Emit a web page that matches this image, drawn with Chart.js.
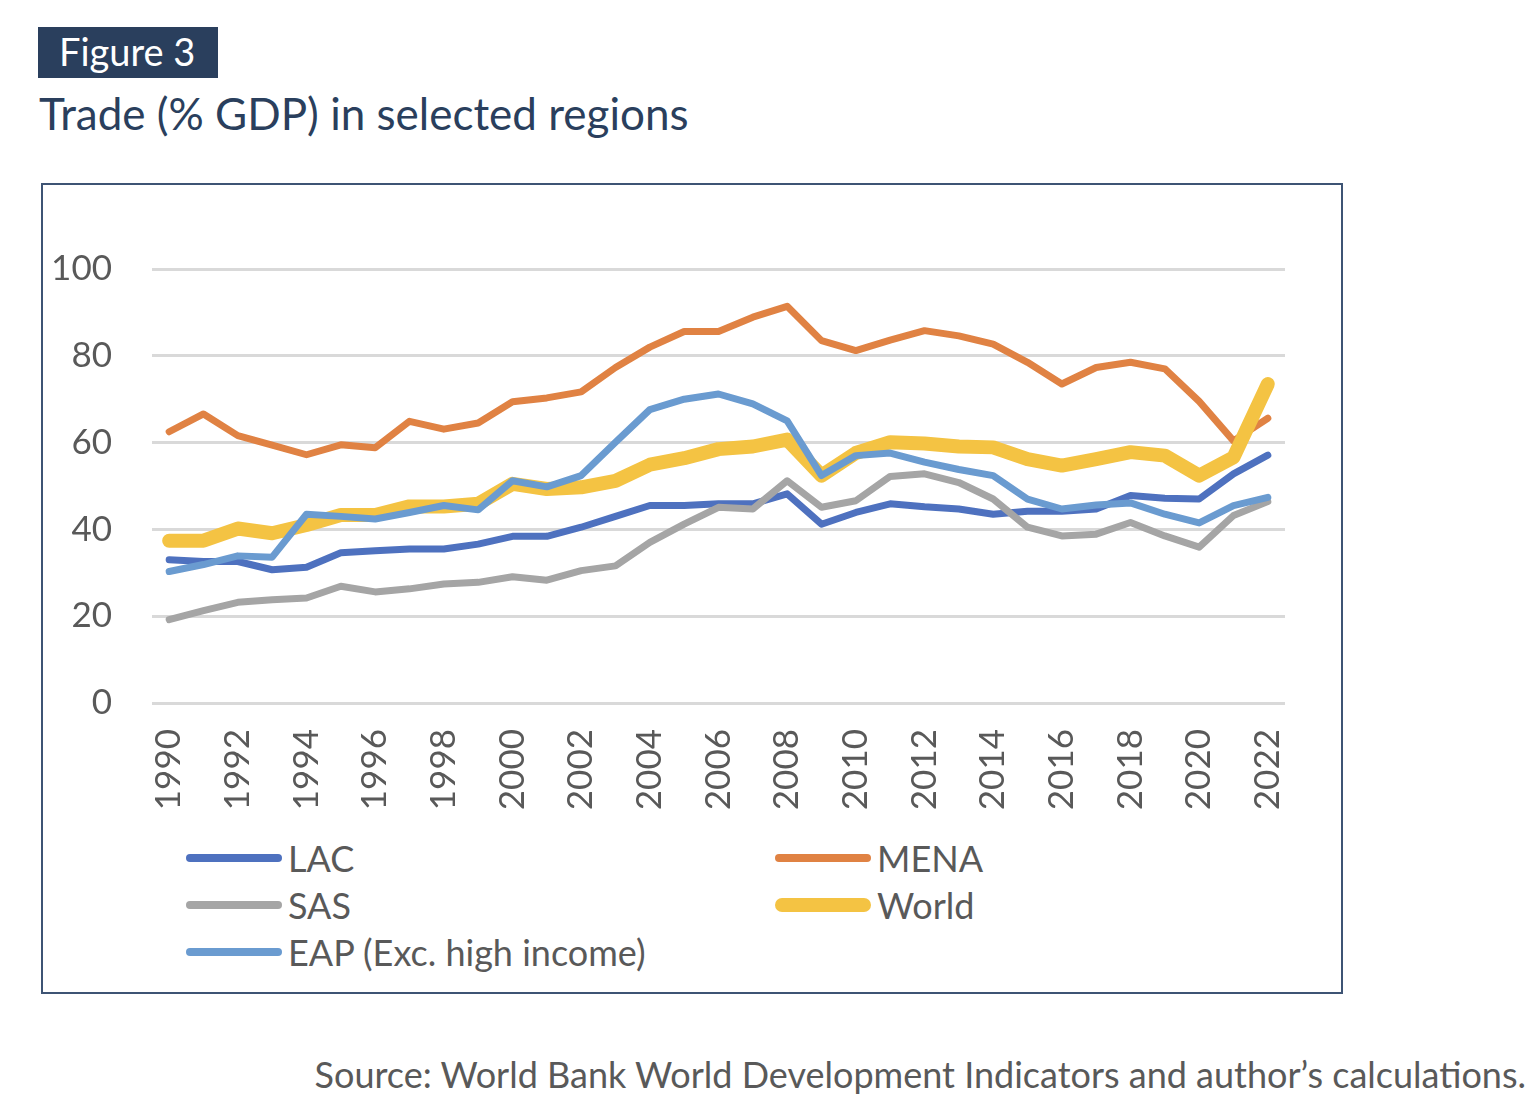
<!DOCTYPE html>
<html>
<head>
<meta charset="utf-8">
<script src="https://cdn.jsdelivr.net/npm/chart.js@4"></script>
<style>
    body { margin: 0; background: #fff; width: 1536px; height: 1114px; position: relative; overflow: hidden; font-family: Lato, sans-serif; }
    #tag { position: absolute; left: 38px; top: 27px; width: 180px; height: 51px; background: #2A3F5D; color: #fff; font-size: 38px; line-height: 49px; padding-left: 21px; box-sizing: border-box; }
    #title { position: absolute; left: 39px; top: 87px; font-size: 44px; color: #2A3F5D; white-space: nowrap; }
    #box { position: absolute; left: 41px; top: 183px; width: 1302px; height: 811px; border: 2px solid #3E5474; box-sizing: border-box; }
    #chartWrap { position: absolute; left: 43px; top: 185px; width: 1297px; height: 645px; }
    .item { position: absolute; height: 40px; display: flex; align-items: center; font-size: 36px; color: #595959; white-space: nowrap; }
    .item span.ln { display: inline-block; width: 96px; margin-right: 6px; }
    #source { position: absolute; right: 10px; top: 1052px; font-size: 36px; color: #595959; white-space: nowrap; }
</style>
</head>
<body>
<div id="tag">Figure 3</div>
<div id="title">Trade (% GDP) in selected regions</div>
<div id="box"></div>
<div id="chartWrap"><canvas id="tradeChart"></canvas></div>
<div id="legend"></div>
<div id="source">Source: World Bank World Development Indicators and author’s calculations.</div>
<script>
// Tahun 1990 - 2022
const years = [
    '1990', '1991', '1992', '1993', '1994', '1995', '1996', '1997', '1998', '1999', '2000',
    '2001', '2002', '2003', '2004', '2005', '2006', '2007', '2008', '2009', '2010', '2011',
    '2012', '2013', '2014', '2015', '2016', '2017', '2018', '2019', '2020', '2021', '2022'
];

const dataLAC = [
    33, 32.6, 32.6, 30.7, 31.3, 34.6, 35.1, 35.5, 35.5, 36.6, 38.4,
    38.4, 40.5, 43, 45.5, 45.5, 45.9, 45.9, 48.2, 41.2, 43.9, 45.9,
    45.2, 44.7, 43.5, 44.2, 44.2, 44.7, 47.8, 47.2, 47, 52.8, 57.1
];

const dataMENA = [
    62.5, 66.6, 61.6, 59.4, 57.2, 59.5, 58.8, 64.9, 63.1, 64.5, 69.4,
    70.3, 71.7, 77.3, 82, 85.6, 85.6, 88.9, 91.4, 83.5, 81.2, 83.6,
    85.8, 84.6, 82.7, 78.5, 73.5, 77.3, 78.5, 77, 69.5, 60.4, 65.6
];

const dataSAS = [
    19.2, 21.3, 23.2, 23.8, 24.2, 26.9, 25.6, 26.3, 27.4, 27.8, 29.1,
    28.3, 30.5, 31.6, 37, 41.2, 45.1, 44.7, 51.2, 45.1, 46.6, 52.2,
    52.8, 50.8, 47, 40.5, 38.5, 38.9, 41.6, 38.5, 35.9, 43.2, 46.4
];

const dataWorld = [
    37.4, 37.4, 40.2, 39.1, 41, 43.3, 43.3, 45.3, 45.3, 45.9, 50.5,
    49.3, 49.7, 51.2, 54.9, 56.4, 58.5, 59.1, 60.7, 52.4, 57.6, 60.1,
    59.8, 59.1, 58.9, 56.2, 54.7, 56.2, 57.8, 57, 52.4, 56.6, 73.5
];

const dataEAP = [
    30.3, 31.9, 33.9, 33.6, 43.5, 43, 42.4, 43.9, 45.5, 44.5, 51.2,
    49.8, 52.4, 60.1, 67.6, 70, 71.2, 68.9, 65, 52.4, 57, 57.6,
    55.5, 53.8, 52.4, 47, 44.7, 45.6, 46.1, 43.5, 41.5, 45.5, 47.4
];

const seriesNames = ['LAC', 'MENA', 'SAS', 'World', 'EAP (Exc. high income)'];
const yTicks = [0, 20, 40, 60, 80, 100];

const colors = ['#4E71BF', '#E08243', '#A5A5A5', '#F4C343', '#6A9BD0'];
const widths = [7, 7, 7, 14, 7];
const stackOrder = [4, 3, 2, 1, 0];   // EAP paling atas
const allData = [dataLAC, dataMENA, dataSAS, dataWorld, dataEAP];

const FONT = 'Lato';

function makeDataset(i) {
    return {
        label: seriesNames[i],
        data: allData[i],
        borderColor: colors[i],
        backgroundColor: colors[i],
        borderWidth: widths[i],
        borderCapStyle: 'round',
        borderJoinStyle: 'round',
        tension: 0,
        pointRadius: 0,
        order: stackOrder[i]
    };
}

new Chart(document.getElementById('tradeChart'), {
    type: 'line',
    data: {
        labels: years,
        datasets: seriesNames.map((n, i) => makeDataset(i))
    },
    options: {
        responsive: true,
        maintainAspectRatio: false,
        animation: false,
        layout: { padding: { top: 84, right: 55, left: 0, bottom: 0 } },
        plugins: {
            legend: { display: false },
            tooltip: { enabled: false }
        },
        scales: {
            x: {
                type: 'category',
                offset: true,
                grid: { display: false, drawTicks: false },
                border: { display: false },
                ticks: {
                    autoSkip: false,
                    maxRotation: 90,
                    minRotation: 90,
                    padding: 26,
                    color: '#595959',
                    font: { family: FONT, size: 35 },
                    callback: function (v, i) { return i % 2 === 0 ? years[i] : ''; }
                },
                afterFit: function (s) { s.height = 127; }
            },
            y: {
                min: 0,
                max: 100,
                afterBuildTicks: function (s) { s.ticks = yTicks.map(v => ({ value: v })); },
                grid: { color: '#D9D9D9', lineWidth: 3, drawTicks: false },
                border: { display: false },
                ticks: {
                    padding: 40,
                    color: '#595959',
                    font: { family: FONT, size: 35 }
                },
                afterFit: function (s) { s.width = 109; }
            }
        }
    }
});

// Legenda dua kolom
const legendPos = [[186, 858], [775, 858], [186, 905], [775, 905], [186, 952]];
const legend = document.getElementById('legend');
seriesNames.forEach(function (name, i) {
    const item = document.createElement('div');
    item.className = 'item';
    item.style.left = legendPos[i][0] + 'px';
    item.style.top = (legendPos[i][1] - 20) + 'px';
    const ln = document.createElement('span');
    ln.className = 'ln';
    ln.style.height = (i === 3 ? 14 : 8) + 'px';
    ln.style.borderRadius = (i === 3 ? 7 : 4) + 'px';
    ln.style.background = colors[i];
    item.appendChild(ln);
    item.appendChild(document.createTextNode(name));
    legend.appendChild(item);
});
</script>
</body>
</html>
